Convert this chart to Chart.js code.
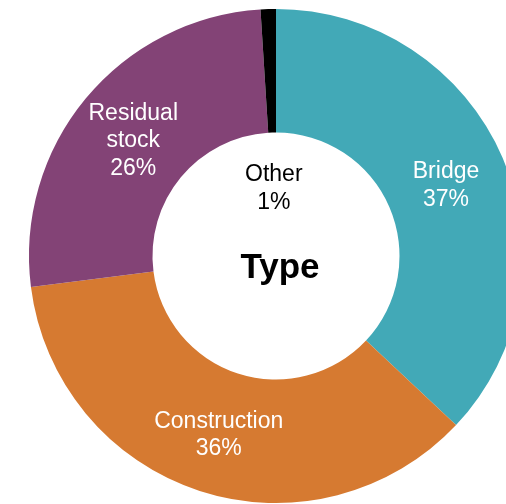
<!DOCTYPE html>
<html>
<head>
    <title>Type</title>
    <script src="https://cdn.jsdelivr.net/npm/chart.js"></script>
    <style>
        html, body { margin: 0; padding: 0; overflow: hidden; background: #fff; }
        #wrap { position: absolute; left: 0; top: 0; width: 552px; height: 512px; }
    </style>
</head>
<body>
    <div id="wrap">
        <canvas id="tipo"></canvas>
    </div>

    <script>
        const categorias = ['Bridge', 'Construction', 'Residual stock', 'Other'];
        const valores = [37, 36, 26, 1];
        const colores = ['#42a9b7', '#d67a31', '#834376', '#000000'];
        const titulo = 'Type';

        const FUENTE = '"Liberation Sans", Arial, sans-serif';

        // Etiquetas dentro de cada segmento y el titulo del centro
        const etiquetas = {
            id: 'etiquetas',
            afterDatasetsDraw(chart) {
                const ctx = chart.ctx;
                const meta = chart.getDatasetMeta(0);
                ctx.save();
                ctx.textAlign = 'center';
                ctx.textBaseline = 'middle';
                ctx.font = '23px ' + FUENTE;
                meta.data.forEach((arc, i) => {
                    const p = arc.getProps(['x', 'y', 'startAngle', 'endAngle', 'innerRadius', 'outerRadius']);
                    const medio = (p.startAngle + p.endAngle) / 2;
                    let r = (p.innerRadius + p.outerRadius) / 2;
                    let color = '#ffffff';
                    if (categorias[i] === 'Other') {
                        r = p.innerRadius * 0.57;
                        color = '#000000';
                    }
                    const cx = p.x + Math.cos(medio) * r;
                    const cy = p.y + Math.sin(medio) * r + 3;
                    const pct = Math.round(valores[i] / valores.reduce((a, b) => a + b, 0) * 100) + '%';
                    const lineas = categorias[i].split(' ').concat([pct]);
                    const alto = 27.5;
                    ctx.fillStyle = color;
                    lineas.forEach((l, k) => {
                        ctx.fillText(l, cx, cy + (k - (lineas.length - 1) / 2) * alto);
                    });
                });
                const a0 = meta.data[0];
                ctx.fillStyle = '#000000';
                ctx.font = 'bold 35px ' + FUENTE;
                ctx.fillText(titulo, a0.x + 4, a0.y + 12);
                ctx.restore();
            }
        };

        new Chart(document.getElementById('tipo').getContext('2d'), {
            type: 'doughnut',
            data: {
                labels: categorias,
                datasets: [{
                    data: valores,
                    backgroundColor: colores,
                    borderWidth: 0
                }]
            },
            options: {
                responsive: true,
                maintainAspectRatio: false,
                animation: false,
                cutout: '50%',
                layout: { padding: { top: 9, bottom: 9, left: 29, right: 29 } },
                plugins: {
                    legend: { display: false },
                    tooltip: { enabled: false }
                }
            },
            plugins: [etiquetas]
        });
    </script>
</body>
</html>
